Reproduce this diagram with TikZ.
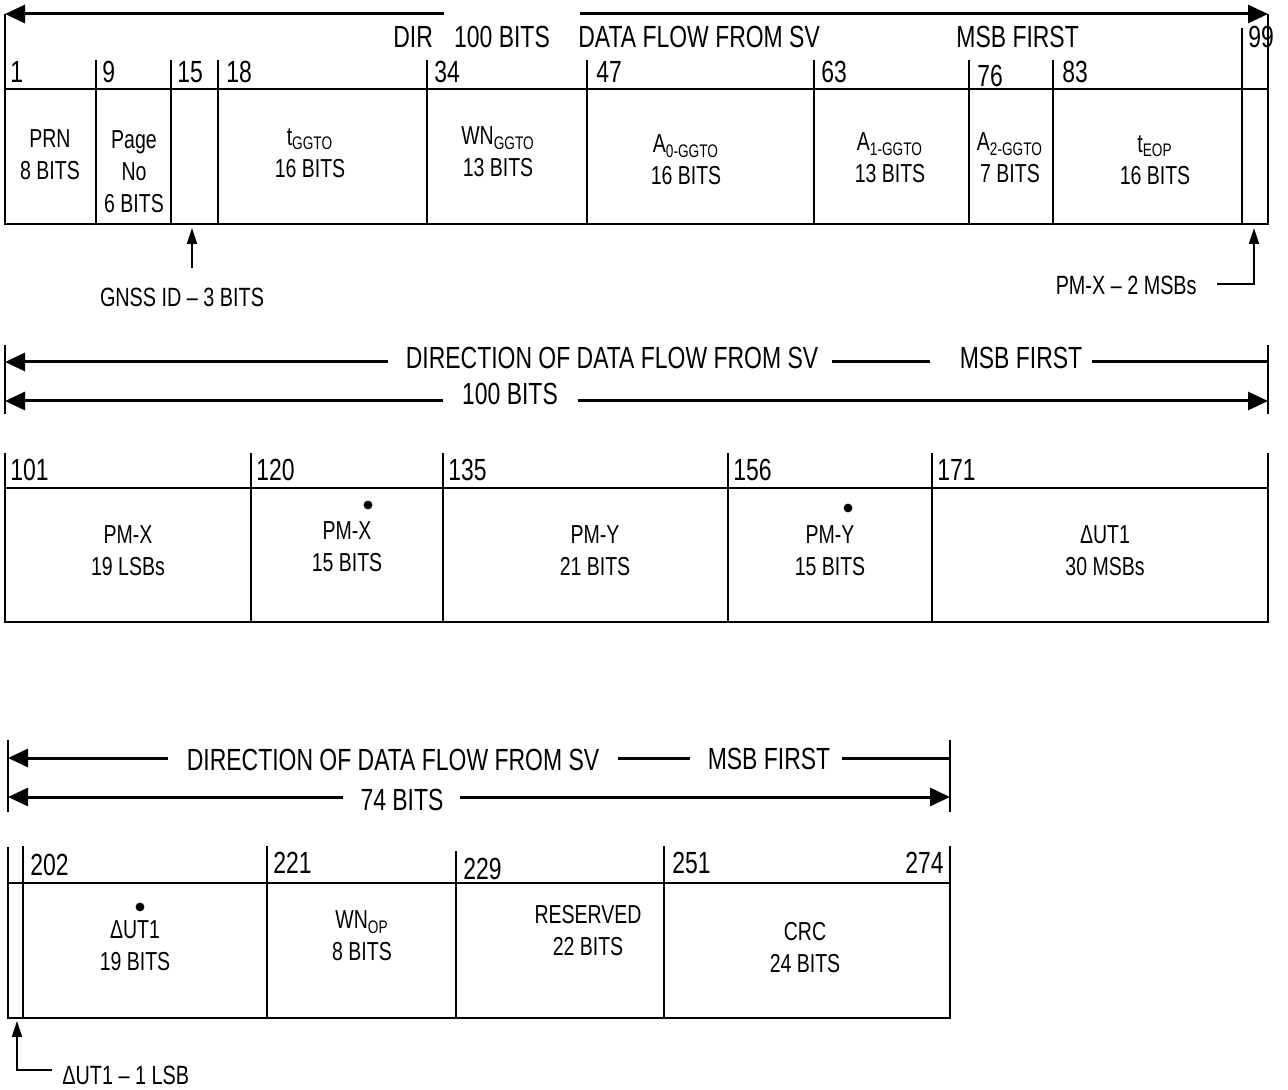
\documentclass[tikz,border=0pt]{standalone}
\usepackage{fontspec}
\setmainfont[FakeStretch=0.75]{Liberation Sans}
\usetikzlibrary{arrows.meta}
\begin{document}
\begin{tikzpicture}[x=0.5pt,y=-0.5pt,
 big/.style={font=\fontsize{15.3}{18}\selectfont, inner sep=0pt},
 num/.style={big, anchor=base west},
 cell/.style={font=\fontsize{13}{16}\selectfont, align=center, inner sep=0pt},
 frame/.style={line width=1.4pt},
 div/.style={line width=1pt},
 bar/.style={line width=0.8pt},
 harrow/.style={line width=1.5pt, -{Triangle[length=10pt,width=9pt]}},
 hline/.style={line width=1.5pt},
 parrow/.style={line width=1pt, -{Triangle[length=8pt,width=5pt]}},
 small/.style={font=\fontsize{13.2}{16}\selectfont, inner sep=0pt}]
\useasboundingbox (0,0) rectangle (1288,1090);

% ===== Section 1 =====
\draw[frame] (5,89) rectangle (1268,224);
\draw[bar] (5,14) -- (5,89);
\draw[bar] (1268,14) -- (1268,89);
\foreach \x in {96,171,218,427,587,814,969,1053} \draw[div] (\x,60) -- (\x,224);
\draw[div] (1242,28) -- (1242,224);
\draw[harrow] (444,14) -- (5,14);
\draw[harrow] (580,14) -- (1268,14);
\node[num] (dir) at (393,48) {DIR};
\node[big, anchor=base] (hb1) at (502,48) {100 BITS};
\node[num] (dfl) at (578,48) {DATA FLOW FROM SV};
\node[num] (msb1) at (956,48) {MSB FIRST};
\node[num] (n99) at (1248,48) {99};
\node[num] (n1) at (10,83) {1};
\node[num] (n9) at (102,83) {9};
\node[num] (n15) at (177,83) {15};
\node[num] (n18) at (226,83) {18};
\node[num] (n34) at (434,83) {34};
\node[num] (n47) at (596,83) {47};
\node[num] (n63) at (821,83) {63};
\node[num] (n76) at (977,87) {76};
\node[num] (n83) at (1062,83) {83};

\node[cell] (prn) at (50,155) {PRN\\8 BITS};
\node[cell] (page) at (134,172) {Page\\No\\6 BITS};
\node[cell] (tggto) at (310,153) {t\textsubscript{GGTO}\\16 BITS};
\node[cell] (wnggto) at (498,152) {WN\textsubscript{GGTO}\\13 BITS};
\node[cell] (a0) at (686,160) {A\textsubscript{0-GGTO}\\16 BITS};
\node[cell] (a1) at (890,158) {A\textsubscript{1-GGTO}\\13 BITS};
\node[cell] (a2) at (1010,158) {A\textsubscript{2-GGTO}\\7 BITS};
\node[cell] (teop) at (1155,160) {t\textsubscript{EOP}\\16 BITS};

\node[small] (gnss) at (182,297) {GNSS ID – 3 BITS};
\coordinate (gA) at (192,268);
\coordinate (gB) at (192,228);
\draw[parrow] (gA) -- (gB);

\node[small, anchor=east] (pmx2) at (1197,285) {PM-X – 2 MSBs};
\coordinate (pA) at (1217,284);
\coordinate (pB) at (1254,284);
\coordinate (pC) at (1254,228);
\draw[parrow] (pA) -- (pB) -- (pC);

% ===== Section 2 =====
\draw[bar] (5,345) -- (5,414);
\draw[bar] (1268,345) -- (1268,414);
\node[big] (d2) at (612,358) {DIRECTION OF DATA FLOW FROM SV};
\draw[harrow] (388,362) -- (5,362);
\draw[hline] (832,362) -- (930,362);
\node[big] (m2) at (1021,358) {MSB FIRST};
\draw[hline] (1092,362) -- (1268,362);
\node[big] (b2) at (510,394) {100 BITS};
\draw[harrow] (443,401) -- (5,401);
\draw[harrow] (578,401) -- (1268,401);

\draw[frame] (5,488) rectangle (1268,622);
\draw[bar] (5,453) -- (5,488);
\draw[bar] (1268,453) -- (1268,488);
\foreach \x in {251,443,728,932} \draw[div] (\x,453) -- (\x,622);
\node[num] (n101) at (10,480) {101};
\node[num] (n120) at (256,480) {120};
\node[num] (n135) at (448,480) {135};
\node[num] (n156) at (733,480) {156};
\node[num] (n171) at (937,480) {171};

\node[cell] (pmx19) at (128,551) {PM-X\\19 LSBs};
\node[cell] (pmxd) at (347,547) {PM-X\\15 BITS};
\node[cell] (pmy21) at (595,551) {PM-Y\\21 BITS};
\node[cell] (pmyd) at (830,551) {PM-Y\\15 BITS};
\node[cell] (ut30) at (1105,551) {ΔUT1\\30 MSBs};
\fill (368,505) circle (2.2pt);
\fill (848,508) circle (2.2pt);

% ===== Section 3 =====
\draw[bar] (8,740) -- (8,812);
\draw[bar] (950,740) -- (950,812);
\node[big] (d3) at (393,760) {DIRECTION OF DATA FLOW FROM SV};
\draw[harrow] (168,758) -- (8,758);
\draw[hline] (618,758) -- (690,758);
\node[big] (m3) at (769,759) {MSB FIRST};
\draw[hline] (842,758) -- (950,758);
\node[big] (b3) at (402,800) {74 BITS};
\draw[harrow] (343,797) -- (8,797);
\draw[harrow] (460,797) -- (950,797);

\draw[frame] (8,883) rectangle (950,1018);
\draw[bar] (8,847) -- (8,883);
\draw[bar] (950,846) -- (950,883);
\draw[div] (23,846) -- (23,1018);
\draw[div] (267,846) -- (267,1018);
\draw[div] (456,851) -- (456,1018);
\draw[div] (664,846) -- (664,1018);
\node[num] (n202) at (30,875) {202};
\node[num] (n221) at (273,873) {221};
\node[num] (n229) at (463,879) {229};
\node[num] (n251) at (672,873) {251};
\node[big, anchor=base east] (n274) at (944,873) {274};

\node[cell] (ut19) at (135,946) {ΔUT1\\19 BITS};
\node[cell] (wnop) at (362,936) {WN\textsubscript{OP}\\8 BITS};
\node[cell] (res) at (588,931) {RESERVED\\22 BITS};
\node[cell] (crc) at (805,948) {CRC\\24 BITS};
\fill (140,907) circle (2.2pt);

\coordinate (uA) at (52,1070);
\coordinate (uB) at (17,1070);
\coordinate (uC) at (17,1021);
\draw[parrow] (uA) -- (uB) -- (uC);
\node[small, anchor=west] (ut1lsb) at (62,1075) {ΔUT1 – 1 LSB};
\end{tikzpicture}
\end{document}
